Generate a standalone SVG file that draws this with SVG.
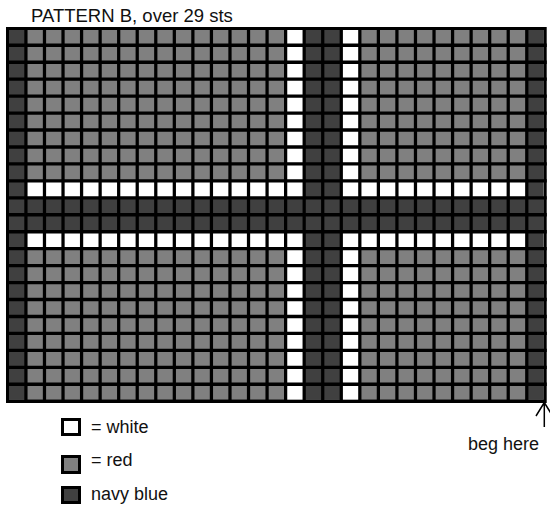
<svg xmlns="http://www.w3.org/2000/svg" width="550" height="506" viewBox="0 0 550 506">
<style>
text{font-family:"Liberation Sans",Arial,sans-serif;fill:#111}
.r{fill:#808080}
.n{fill:#404040}
.w{fill:#ffffff}
.k{fill:#000}
.gl{fill:none;stroke:#000}
.lg{stroke:#000;stroke-width:3}
</style>
<rect width="550" height="506" fill="#fff"/>
<g id="title"><text x="31" y="22" font-size="18.5">PATTERN B, over 29 sts</text></g>
<g id="chart">
<rect class="k" x="6" y="27" width="540.7" height="376"/>
<rect class="r" x="9" y="30" width="534.7" height="369.55"/>
<rect class="w" x="285.625" y="30" width="18.55" height="369.55"/>
<rect class="w" x="341.275" y="30" width="18.55" height="369.55"/>
<rect class="w" x="9" y="180.875" width="534.7" height="16.95"/>
<rect class="w" x="9" y="231.725" width="534.7" height="16.95"/>
<rect class="n" x="9" y="197.825" width="534.7" height="33.9"/>
<rect class="n" x="9" y="30" width="16.925" height="369.55"/>
<rect class="n" x="304.175" y="30" width="37.1" height="369.55"/>
<rect class="n" x="526.775" y="30" width="16.925" height="369.55"/>
<path class="gl" stroke-width="3.25" d="M25.925 27V403M44.475 27V403M63.025 27V403M81.575 27V403M100.125 27V403M118.675 27V403M137.225 27V403M155.775 27V403M174.325 27V403M192.875 27V403M211.425 27V403M229.975 27V403M248.525 27V403M267.075 27V403M285.625 27V403M304.175 27V403M322.725 27V403M341.275 27V403M359.825 27V403M378.375 27V403M396.925 27V403M415.475 27V403M434.025 27V403M452.575 27V403M471.125 27V403M489.675 27V403M508.225 27V403M526.775 27V403"/>
<path class="gl" stroke-width="3.35" d="M6 45.275H546.7M6 62.225H546.7M6 79.175H546.7M6 96.125H546.7M6 113.075H546.7M6 130.025H546.7M6 146.975H546.7M6 163.925H546.7M6 180.875H546.7M6 197.825H546.7M6 214.775H546.7M6 231.725H546.7M6 248.675H546.7M6 265.625H546.7M6 282.575H546.7M6 299.525H546.7M6 316.475H546.7M6 333.425H546.7M6 350.375H546.7M6 367.325H546.7M6 384.275H546.7"/>
</g>
<g id="connectors">
<path d="M544.3 427V403M536 416L544.3 402.5L552.6 416" fill="none" stroke="#000" stroke-width="1.5"/>
</g>
<g id="beg-here"><text x="468" y="450" font-size="18">beg here</text></g>
<g id="legend-white"><rect class="w lg" x="62.5" y="419.5" width="17" height="15"/><text x="91" y="433" font-size="18">= white</text></g>
<g id="legend-red"><rect class="r lg" x="62.5" y="456.5" width="17" height="16"/><text x="91" y="466" font-size="18">= red</text></g>
<g id="legend-navy"><rect class="n lg" x="62.5" y="487.5" width="17" height="15"/><text x="91" y="500" font-size="18">navy blue</text></g>
</svg>
